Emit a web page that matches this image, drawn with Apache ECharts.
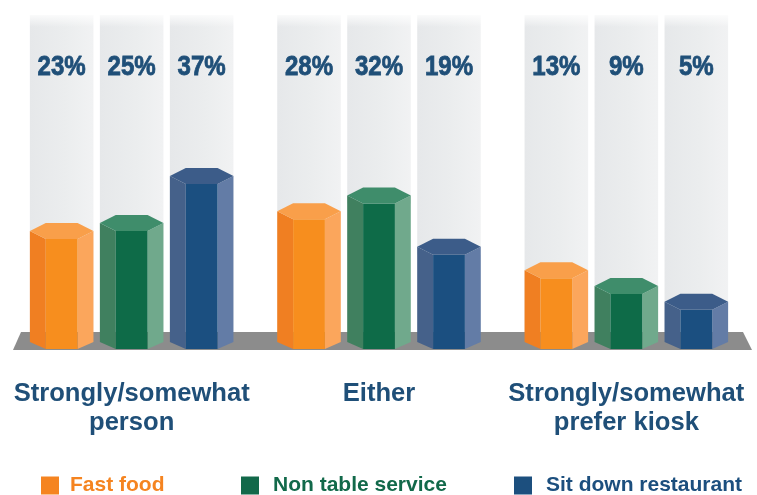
<!DOCTYPE html>
<html>
<head>
<meta charset="utf-8">
<style>
  html, body { margin: 0; padding: 0; background: #ffffff; }
  #chart { width: 757px; height: 495px; }
</style>
<script src="https://cdn.jsdelivr.net/npm/echarts@6/dist/echarts.min.js"></script>
</head>
<body>
<div id="chart"></div>
<script>
const categories = ['Strongly/somewhat\nperson', 'Either', 'Strongly/somewhat\nprefer kiosk'];
const seriesNames = ['Fast food', 'Non table service', 'Sit down restaurant'];
const fastFood = [23, 28, 13];
const nonTableService = [25, 32, 9];
const sitDownRestaurant = [37, 19, 5];

const AXIS_MIN = -5;
const AXIS_MAX = 80;
const LABEL_LEVEL = 67;

// Face shades of each hexagonal prism: left, front, right, top.
const palettes = [
  { left: '#f07f22', front: '#f78e1e', right: '#fba65c', top: '#f99f4a', legend: '#f58420' },
  { left: '#40805f', front: '#0e6b48', right: '#70a98c', top: '#3f8d6b', legend: '#12694a' },
  { left: '#45618a', front: '#1b4f80', right: '#637ca6', top: '#3c5c89', legend: '#1c4f7e' }
];

const TITLE_BLUE = '#1f4f78';

function poly(points, fill) {
  return { type: 'polygon', shape: { points }, style: { fill } };
}

// One translucent track plus one hexagonal prism, with the percentage above it.
function prismRenderer(seriesIndex) {
  return function (params, api) {
    const band = api.size([1, 0])[0];
    const value = api.value(1);
    const center = api.coord([api.value(0), 0])[0] + (seriesIndex - 1) * band * 0.283;
    const width = band * 0.257;
    const left = center - width / 2;
    const right = center + width / 2;
    const inL = left + width * 0.25;
    const inR = right - width * 0.25;
    const base = api.coord([api.value(0), AXIS_MIN])[1];
    const ceiling = api.coord([api.value(0), AXIS_MAX])[1];
    const topY = api.coord([api.value(0), value])[1];
    const labelY = api.coord([api.value(0), LABEL_LEVEL])[1];
    const p = palettes[seriesIndex];
    const rise = 8;

    return {
      type: 'group',
      children: [
        {
          type: 'rect',
          shape: { x: left, y: ceiling, width: width, height: base - 17 - ceiling },
          style: {
            fill: {
              type: 'linear', x: 0, y: 0, x2: 1, y2: 0,
              colorStops: [
                { offset: 0, color: '#e6e8ea' },
                { offset: 0.55, color: '#ebedee' },
                { offset: 1, color: '#f1f2f3' }
              ]
            }
          }
        },
        {
          type: 'rect',
          shape: { x: left - 1, y: ceiling - 3, width: width + 2, height: 15 },
          style: {
            fill: {
              type: 'linear', x: 0, y: 0, x2: 0, y2: 1,
              colorStops: [
                { offset: 0, color: 'rgba(255,255,255,1)' },
                { offset: 1, color: 'rgba(255,255,255,0)' }
              ]
            }
          }
        },
        poly([[left, topY - rise], [inL, topY], [inL, base], [left, base - rise + 1]], p.left),
        poly([[right, topY - rise], [inR, topY], [inR, base], [right, base - rise + 1]], p.right),
        poly([[inL, topY], [inR, topY], [inR, base], [inL, base]], p.front),
        poly([[left, topY - rise], [inL, topY - 2 * rise], [inR, topY - 2 * rise], [right, topY - rise], [inR, topY], [inL, topY]], p.top),
        {
          type: 'text',
          x: center,
          y: labelY + 1,
          scaleX: 0.86,
          style: {
            x: 0,
            y: 0,
            text: value + '%',
            align: 'center',
            verticalAlign: 'middle',
            fill: TITLE_BLUE,
            stroke: TITLE_BLUE,
            lineWidth: 0.8,
            font: 'bold 28px "Liberation Sans", sans-serif'
          }
        }
      ]
    };
  };
}

// Grey floor the prisms stand on, sized from the plot area.
function floorRenderer(params) {
  const c = params.coordSys;
  const b = c.y + c.height + 1;
  return poly([
    [c.x + 5, b],
    [c.x + 13, b - 18],
    [c.x + c.width - 7, b - 18],
    [c.x + c.width + 2, b]
  ], '#8c8c8c');
}

function legendAt(left, index, textGap) {
  return {
    left: left,
    top: 475,
    padding: 0,
    itemWidth: 18,
    itemHeight: 18,
    itemGap: 0,
    icon: 'rect',
    selectedMode: false,
    data: [{
      name: seriesNames[index],
      textStyle: {
        color: palettes[index].legend,
        fontFamily: '"Liberation Sans", sans-serif',
        fontWeight: 'bold',
        fontSize: 21,
        padding: [0, 0, 0, textGap]
      }
    }]
  };
}

const chart = echarts.init(document.getElementById('chart'), null, { renderer: 'canvas' });

chart.setOption({
  animation: false,
  backgroundColor: '#ffffff',
  grid: { left: 8, right: 7, top: 15, bottom: 146, containLabel: false },
  xAxis: {
    type: 'category',
    data: categories,
    axisLine: { show: false },
    axisTick: { show: false },
    splitLine: { show: false },
    axisLabel: {
      margin: 30,
      color: TITLE_BLUE,
      fontFamily: '"Liberation Sans", sans-serif',
      fontWeight: 'bold',
      fontSize: 25.6,
      lineHeight: 29,
      interval: 0
    }
  },
  yAxis: {
    type: 'value',
    min: AXIS_MIN,
    max: AXIS_MAX,
    show: false
  },
  legend: [legendAt(41, 0, 6), legendAt(241, 1, 9), legendAt(514, 2, 9)],
  series: [
    {
      type: 'custom',
      name: 'floor',
      z: 1,
      silent: true,
      clip: false,
      renderItem: floorRenderer,
      data: [[0, 0]],
      encode: { x: 0, y: 1 }
    }
  ].concat([fastFood, nonTableService, sitDownRestaurant].map(function (values, i) {
    return {
      type: 'custom',
      name: seriesNames[i],
      z: 2,
      clip: false,
      itemStyle: { color: palettes[i].legend },
      renderItem: prismRenderer(i),
      encode: { x: 0, y: 1 },
      data: values.map(function (v, j) { return [j, v]; })
    };
  }))
});
</script>
</body>
</html>
